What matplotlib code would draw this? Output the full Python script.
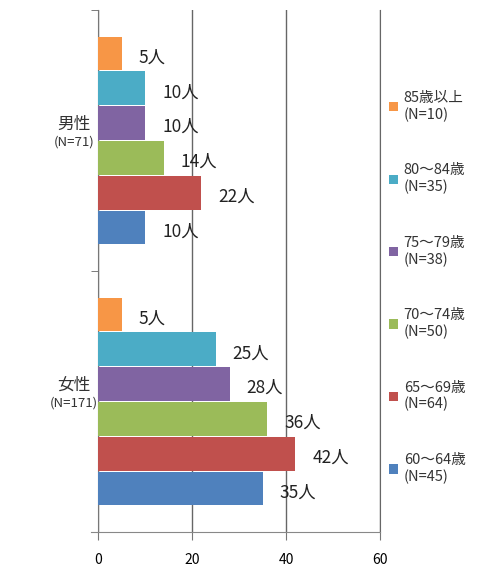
import matplotlib
matplotlib.use("Agg")
import matplotlib.pyplot as plt
from matplotlib.patches import Patch
from matplotlib.transforms import offset_copy
import numpy as np

plt.rcParams['font.family'] = ['Noto Sans CJK JP', 'DejaVu Sans']

groups = ["女性", "男性"]
group_n = ["(N=171)", "(N=71)"]
series = ["60～64歳", "65～69歳", "70～74歳", "75～79歳", "80～84歳", "85歳以上"]
series_n = ["(N=45)", "(N=64)", "(N=50)", "(N=38)", "(N=35)", "(N=10)"]
female = [35, 42, 36, 28, 25, 5]
male = [10, 22, 14, 10, 10, 5]
colors = ["#4F81BD", "#C0504D", "#9BBB59", "#8064A2", "#4BACC6", "#F79646"]
xticks = [0, 20, 40, 60]

fig = plt.figure(figsize=(5.0, 5.73), dpi=100)
ax = fig.add_axes([0.196, 0.0716, 0.564, 0.911])

n = len(series)
grp_w = 0.8
w = grp_w / n
y = np.arange(len(groups))
for i in range(n):
    vals = [female[i], male[i]]
    pos = y - grp_w / 2 + w * (i + 0.5)
    ax.barh(pos, vals, height=w * 0.97, color=colors[i], zorder=3)
    for p, v in zip(pos, vals):
        t = offset_copy(ax.transData, fig=fig, x=17, y=-4, units='dots')
        ax.text(v, p, f"{v}人", transform=t, ha='left', va='center',
                fontsize=12.5, color='#222222', zorder=4)

ax.set_xlim(0, 60)
ax.set_ylim(-0.5, 1.5)
ax.set_xticks(xticks)
ax.set_xticklabels([str(v) for v in xticks], fontsize=11, color='#333333')
ax.xaxis.grid(True, color='#666666', linewidth=1.0, zorder=0)
ax.tick_params(axis='x', direction='out', length=6, color='#777777', pad=9)

ax.set_yticks([-0.5, 0.5, 1.5], minor=True)
ax.set_yticks([])
ax.tick_params(axis='y', which='minor', length=5, color='#666666')
for g, gn, yy in zip(groups, group_n, y):
    ax.text(-0.085, yy + 0.03, g, transform=ax.get_yaxis_transform(),
            ha='center', va='bottom', fontsize=12, color='#333333')
    ax.text(-0.085, yy + 0.02, gn, transform=ax.get_yaxis_transform(),
            ha='center', va='top', fontsize=9.5, color='#333333')

ax.spines['top'].set_visible(False)
ax.spines['right'].set_color('#666666')
ax.spines['left'].set_color('#777777')
ax.spines['bottom'].set_color('#888888')
ax.spines['bottom'].set_bounds(-1.5, 60)
ax.spines['bottom'].set_position(('data', -0.5))

handles = [Patch(facecolor=colors[i]) for i in reversed(range(n))]
labels = [f"{series[i]}\n{series_n[i]}" for i in reversed(range(n))]
fig.legend(handles, labels, loc='upper left', bbox_to_anchor=(0.752, 0.864),
           frameon=False, fontsize=10.5, handlelength=0.6, handleheight=0.6,
           handletextpad=0.4, labelspacing=2.85, labelcolor='#333333')

fig.savefig("out.png", dpi=100)
